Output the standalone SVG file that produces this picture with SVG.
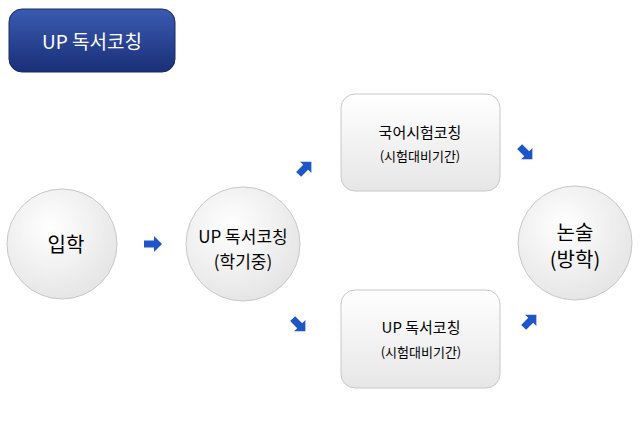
<svg xmlns="http://www.w3.org/2000/svg" width="640" height="426" viewBox="0 0 640 426">
<defs>
<linearGradient id="g" x1="0" y1="0" x2="0" y2="1"><stop offset="0" stop-color="#ffffff"/><stop offset="1" stop-color="#e6e6e6"/></linearGradient>
<radialGradient id="rg" cx="0.4" cy="0.35" r="0.7"><stop offset="0" stop-color="#ffffff"/><stop offset="1" stop-color="#e4e4e4"/></radialGradient>
<linearGradient id="tg" x1="0" y1="0" x2="0" y2="1"><stop offset="0" stop-color="#3a5bb0"/><stop offset="1" stop-color="#1a2f78"/></linearGradient>
<path id="arr" d="M-9,-3.5 H1 V-8 L9,0 L1,8 V3.5 H-9 Z" fill="#1e56c8"/>
</defs>
<style>
.n{stroke:#c8c8c8;stroke-width:1}
.t{font-family:"Noto Sans CJK KR","Noto Sans",sans-serif;fill:#000;text-anchor:middle}
</style>
<g id="title"><rect x="9" y="9" width="166" height="63" rx="13" fill="url(#tg)" stroke="#1a2a60"/><text x="92" y="49" class="t" font-size="19" fill="#fff" style="fill:#fff">UP 독서코칭</text></g>
<g id="n1"><circle cx="62" cy="244" r="55" fill="url(#rg)" class="n"/><text x="66" y="252" class="t" font-size="20">입학</text></g>
<g id="n2"><circle cx="243" cy="244" r="57" fill="url(#rg)" class="n"/><text x="243" y="243" class="t" font-size="17">UP 독서코칭</text><text x="243" y="268" class="t" font-size="17">(학기중)</text></g>
<g id="n3"><rect x="341" y="94" width="159" height="97" rx="14" fill="url(#g)" class="n"/><text x="420" y="138" class="t" font-size="15">국어시험코칭</text><text x="420" y="161" class="t" font-size="13">(시험대비기간)</text></g>
<g id="n4"><rect x="341" y="290" width="159" height="98" rx="14" fill="url(#g)" class="n"/><text x="421" y="333" class="t" font-size="15">UP 독서코칭</text><text x="421" y="357" class="t" font-size="13">(시험대비기간)</text></g>
<g id="n5"><circle cx="575" cy="243" r="57" fill="url(#rg)" class="n"/><text x="575" y="240" class="t" font-size="20">논술</text><text x="575" y="267" class="t" font-size="20">(방학)</text></g>
<g id="connectors">
<use href="#arr" transform="translate(153,244)"/>
<use href="#arr" transform="translate(305,168) rotate(-45)"/>
<use href="#arr" transform="translate(299,325) rotate(45)"/>
<use href="#arr" transform="translate(526,153) rotate(45)"/>
<use href="#arr" transform="translate(530,321) rotate(-45)"/>
</g>
</svg>
